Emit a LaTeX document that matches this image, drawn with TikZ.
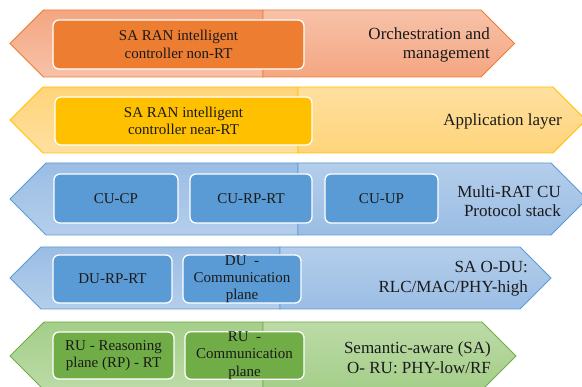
\documentclass[tikz,border=0pt]{standalone}
\usepackage{fontspec}
\setmainfont{Liberation Serif}
\usetikzlibrary{positioning}

\definecolor{orangeline}{HTML}{ED7D31}
\definecolor{orangedark}{HTML}{F4A681}
\definecolor{orangelight}{HTML}{F7C2A9}
\definecolor{yellowline}{HTML}{FFC000}
\definecolor{yellowdark}{HTML}{FFD47A}
\definecolor{yellowlight}{HTML}{FFE0A0}
\definecolor{blueline}{HTML}{5B9BD5}
\definecolor{bluedark}{HTML}{9BBDE4}
\definecolor{bluelight}{HTML}{B4CEEB}
\definecolor{greenline}{HTML}{70AD47}
\definecolor{greendark}{HTML}{A4CE89}
\definecolor{greenlight}{HTML}{BCDBA7}
\definecolor{labeltext}{HTML}{1A1A1A}

\tikzset{
  % For the two halves of every band.
  band/.style={
    line width=0.8pt,
    line join=miter},
  left half/.style={
    band,
    draw=#1line,
    top color=#1dark,
    bottom color=#1light},
  right half/.style={
    band,
    draw=#1line,
    top color=#1light,
    bottom color=#1dark},
%
  % For the boxes inside the bands.
  inner box/.style={
    draw=white,
    line width=1.3pt,
    fill=#1,
    rounded corners=6pt,
    inner sep=0pt,
    align=center,
    text=labeltext,
    font=\fontsize{15}{17.3}\selectfont},
%
  % For the names of the bands.
  band label/.style={
    anchor=east,
    align=right,
    inner sep=0pt,
    text=labeltext,
    font=\fontsize{17}{19.6}\selectfont},
}

\begin{document}
\begin{tikzpicture}[x=1pt,y=-1pt]
  \useasboundingbox (0,0) rectangle (582,387);

  % Orchestration band
  \draw[left half=orange] (263,10) -- (43.5,10) -- (10,43.5) -- (43.5,77) -- (263,77) -- cycle;
  \draw[right half=orange] (263,10) -- (481,10) -- (514.5,43.5) -- (481,77) -- (263,77) -- cycle;

  % Application band
  \draw[left half=yellow] (298,87) -- (43,87) -- (10,120) -- (43,153) -- (298,153) -- cycle;
  \draw[right half=yellow] (298,87) -- (553,87) -- (586,120) -- (553,153) -- (298,153) -- cycle;

  % CU band
  \draw[left half=blue] (298,163) -- (46,163) -- (10,199) -- (46,235) -- (298,235) -- cycle;
  \draw[right half=blue] (298,163) -- (551,163) -- (587,199) -- (551,235) -- (298,235) -- cycle;

  % DU band
  \draw[left half=blue] (280,247) -- (41,247) -- (10,278) -- (41,309) -- (280,309) -- cycle;
  \draw[right half=blue] (280,247) -- (520,247) -- (551,278) -- (520,309) -- (280,309) -- cycle;

  % RU band
  \draw[left half=green] (263,322) -- (44,322) -- (10,356) -- (44,390) -- (263,390) -- cycle;
  \draw[right half=green] (263,322) -- (482,322) -- (516,356) -- (482,390) -- (263,390) -- cycle;

  \node[inner box=orangeline, minimum width=251pt, minimum height=49pt] (ricnonrt)
    at (178.5,44.5) {SA RAN intelligent\\controller non-RT};
  \node[inner box=yellowline, minimum width=257pt, minimum height=48pt] (ricnearrt)
    at (183.5,121) {SA RAN intelligent\\controller near-RT};

  \node[inner box=blueline, minimum width=124pt, minimum height=49pt] (cucp)
    at (116,198.5) {CU-CP};
  \node[inner box=blueline, minimum width=122pt, minimum height=49pt] (curp)
    at (251,198.5) {CU-RP-RT};
  \node[inner box=blueline, minimum width=113pt, minimum height=49pt] (cuup)
    at (381.5,198.5) {CU-UP};

  \node[inner box=blueline, minimum width=119pt, minimum height=48pt] (durp)
    at (112.5,279) {DU-RP-RT};
  \node[inner box=blueline, minimum width=118pt, minimum height=48pt] (ducp)
    at (242,279) {DU\enspace -\\Communication\\plane};

  \node[inner box=greenline, minimum width=121pt, minimum height=47pt] (rurp)
    at (113.5,355.5) {RU - Reasoning\\plane (RP) - RT};
  \node[inner box=greenline, minimum width=119pt, minimum height=47pt] (rucp)
    at (244.5,355.5) {RU\enspace -\\Communication\\plane};

  \node[band label] (orch) at (490,45) {Orchestration and\\management};
  \node[band label] (app) at (562,121) {Application layer};
  \node[band label] (cu) at (561,201) {Multi-RAT CU\\Protocol stack};
  \node[band label] (du) at (528,279) {SA O-DU:\\RLC/MAC/PHY-high};
  \node[band label] (ru) at (491,358) {Semantic-aware (SA)\\O- RU: PHY-low/RF};
\end{tikzpicture}
\end{document}
